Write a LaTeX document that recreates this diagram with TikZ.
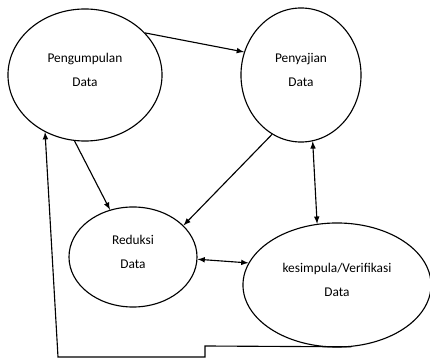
\documentclass[tikz,border=0pt]{standalone}
\usepackage{fontspec}
\setmainfont{Carlito}
\usetikzlibrary{arrows,shapes,positioning}
\tikzset{
  proses/.style={draw, ellipse, line width=0.8pt, inner sep=0pt, align=center,
    text depth=7pt, font=\fontsize{9.5}{17}\selectfont},
  panah/.style={line width=0.8pt, >=latex}
}
\begin{document}
\begin{tikzpicture}[x=0.025cm, y=-0.025cm]
			\useasboundingbox (0, 0) rectangle (430, 361);
			\node (peng) at (85, 75) [proses, minimum width=3.85cm, minimum height=3.3cm] {Pengumpulan\\Data};
			\node (peny) at (301, 75) [proses, minimum width=3cm, minimum height=3.35cm] {Penyajian\\Data};
			\node (redu) at (133, 257) [proses, minimum width=3.2cm, minimum height=2.5cm] {Reduksi\\Data};
			\node (kesi) at (337, 285) [proses, minimum width=4.7cm, minimum height=3.1cm] {kesimpula/Verifikasi\\Data};
			\draw [panah, ->] (peng.35)--(peny.158);
			\draw [panah, ->] (peng.261)--(redu.116);
			\draw [panah, ->] (peny.244)--(redu.32);
			\draw [panah, <->] (peny.280)--(kesi.108);
			\draw [panah, <->] (redu.358)--(kesi.166);
			% umpan balik ke pengumpulan data
			\coordinate (belok1) at (205, 346);
			\coordinate (belok2) at (205, 357);
			\coordinate (belok3) at (58, 357);
			\draw [panah, ->] (kesi.283)--(belok1)--(belok2)--(belok3)--(peng.235);
		\end{tikzpicture}
\end{document}
